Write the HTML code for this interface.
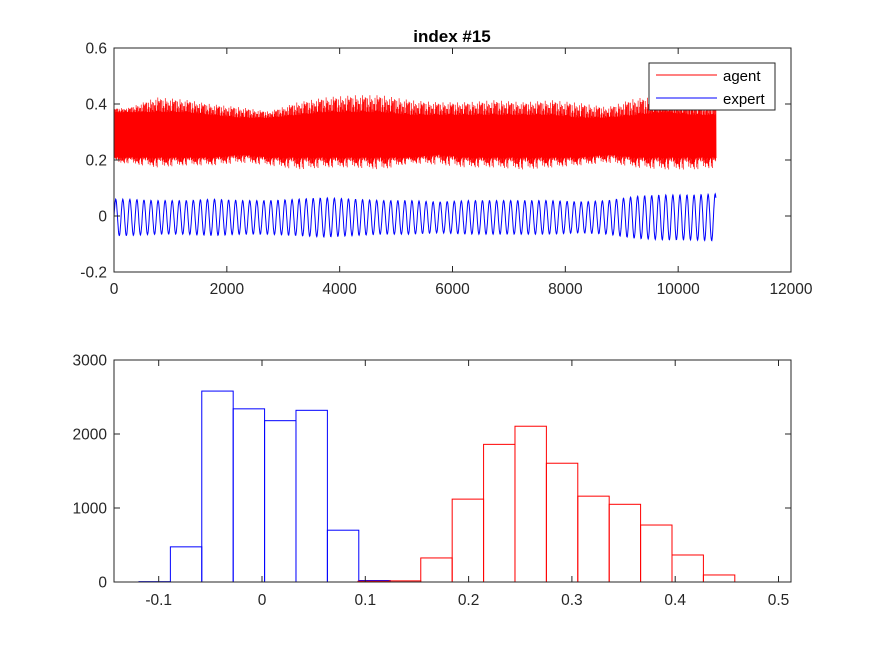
<!DOCTYPE html>
<html><head><meta charset="utf-8"><style>
body{margin:0;background:#fff;width:875px;height:656px;overflow:hidden}
svg{display:block;font-family:"Liberation Sans",Arial,sans-serif}
</style></head><body>
<svg id="fig" width="875" height="656" viewBox="0 0 875 656">
<rect x="0" y="0" width="875" height="656" fill="#fff"/>
<g id="topAxes"></g>
<g id="botAxes"></g>
</svg>
<script>
// ---- Top chart data ----
const topXTicks = [0, 2000, 4000, 6000, 8000, 10000, 12000];
const topYTicks = [-0.2, 0, 0.2, 0.4, 0.6];
const topYLabels = ["-0.2", "0", "0.2", "0.4", "0.6"];
const nSamples = 10670;
// agent envelope per 500-sample segment
const agentMax = [0.39,0.44,0.43,0.41,0.40,0.38,0.42,0.44,0.45,0.45,0.43,0.42,0.42,0.43,0.42,0.43,0.42,0.40,0.44,0.44,0.43,0.40];
const agentMin = [0.18,0.16,0.17,0.17,0.18,0.17,0.15,0.16,0.16,0.15,0.18,0.17,0.16,0.16,0.15,0.16,0.17,0.18,0.16,0.15,0.15,0.16];
const agentCoreHi = [0.37,0.37,0.37,0.36,0.35,0.35,0.36,0.37,0.37,0.37,0.36,0.36,0.36,0.36,0.36,0.36,0.35,0.35,0.36,0.37,0.36,0.36];
const agentCoreLo = [0.21,0.21,0.21,0.21,0.22,0.21,0.21,0.21,0.21,0.21,0.21,0.22,0.21,0.21,0.21,0.21,0.21,0.22,0.21,0.21,0.21,0.21];
const spikeJitter = [0.9,0.35,1.0,0.55,0.15,0.8,0.5,0.97,0.3,0.7,0.05,0.85,0.45,0.62,0.22,0.75,0.4,0.1,0.66,0.92,0.28,0.58,0.08,0.78,0.48,0.18,0.88,0.38,0.68,0.02,0.6,0.33,0.83,0.12,0.52,0.25,0.72];
// expert amplitude per 500-sample segment
const expertAmp = [0.065,0.06,0.06,0.065,0.06,0.06,0.065,0.07,0.065,0.06,0.06,0.055,0.06,0.06,0.06,0.06,0.055,0.06,0.075,0.08,0.08,0.085];
const expertPeriod = 125;
// ---- Bottom chart data ----
const histXTicks = [-0.1, 0, 0.1, 0.2, 0.3, 0.4, 0.5];
const histXLabels = ["-0.1", "0", "0.1", "0.2", "0.3", "0.4", "0.5"];
const histYTicks = [0, 1000, 2000, 3000];
const binWidth = 0.0304;
const expertStart = -0.1191;
const expertCounts = [5, 475, 2580, 2340, 2180, 2320, 700, 20];
const agentStart = 0.0929;
const agentCounts = [10, 15, 325, 1120, 1860, 2105, 1605, 1160, 1050, 770, 365, 95];

const NS = "http://www.w3.org/2000/svg";
function mk(parent, tag, attrs, text){
  const e = document.createElementNS(NS, tag);
  for (const k in attrs) e.setAttribute(k, attrs[k]);
  if (text !== undefined) e.textContent = text;
  parent.appendChild(e); return e;
}
function interp(arr, s){
  const f = s/500 - 0.5;
  const i = Math.max(0, Math.min(arr.length-1, Math.floor(f)));
  const i2 = Math.min(arr.length-1, i+1);
  const t = Math.max(0, Math.min(1, f - i));
  return arr[i]*(1-t) + arr[i2]*t;
}
const AX = "#262626";
const FS = 15.5;

// ---------- top ----------
const topG = document.getElementById('topAxes');
const tL=114, tR=791, tT=48, tB=272;
const tx = v => tL + (v-0)/(12000-0)*(tR-tL);
const ty = v => tB - (v+0.2)/(0.8)*(tB-tT);
mk(topG,'rect',{x:tL,y:tT,width:tR-tL,height:tB-tT,fill:'#fff'});
// agent
let spikes = '';
const step = 7;
let j = 0;
for (let s = 0; s < nSamples; s += step) {
  const k = spikeJitter[j % spikeJitter.length] * spikeJitter[(j*5+11) % spikeJitter.length];
  const k2 = spikeJitter[(j*7+3) % spikeJitter.length] * spikeJitter[(j*3+1) % spikeJitter.length];
  const cHi = interp(agentCoreHi, s), cLo = interp(agentCoreLo, s);
  const hi = cHi + (interp(agentMax, s)-cHi) * k;
  const lo = cLo - (cLo-interp(agentMin, s)) * k2;
  spikes += `M${tx(s).toFixed(1)},${ty(hi).toFixed(1)}L${tx(s+step/2).toFixed(1)},${ty(lo).toFixed(1)}`;
  j++;
}
const agentG = mk(topG,'g',{});


mk(agentG,'path',{d:spikes,stroke:'#f00','stroke-width':0.7,fill:'none'});
let core = '';
for (let s=0;s<=nSamples;s+=50){ core += (s?'L':'M')+tx(s).toFixed(1)+','+ty(interp(agentCoreHi,s)).toFixed(1); }
for (let s=Math.floor(nSamples/50)*50;s>=0;s-=50){ core += 'L'+tx(s).toFixed(1)+','+ty(interp(agentCoreLo,s)).toFixed(1); }
core += 'Z';
mk(agentG,'path',{d:core,fill:'#f00',stroke:'none'});
// expert
let ep = '';
for (let s=0;s<=nSamples;s+=6){
  const v = interp(expertAmp, s)*Math.sin(2*Math.PI*s/expertPeriod) - 0.005;
  ep += (s?'L':'M')+tx(s).toFixed(1)+','+ty(v).toFixed(1);
}
const ex = mk(topG,'path',{d:ep,stroke:'#00f','stroke-width':1,fill:'none'});


mk(topG,'rect',{x:tL,y:tT,width:tR-tL,height:tB-tT,fill:'none',stroke:AX,'stroke-width':1});
topXTicks.forEach(v=>{
  const x=tx(v);
  mk(topG,'line',{x1:x,y1:tB,x2:x,y2:tB-6,stroke:AX});
  mk(topG,'line',{x1:x,y1:tT,x2:x,y2:tT+6,stroke:AX});
  const t=mk(topG,'text',{x:x,y:tB+22,'text-anchor':'middle','font-size':FS,fill:AX},String(v));
  
  
});
topYTicks.forEach((v,i)=>{
  const y=ty(v);
  mk(topG,'line',{x1:tL,y1:y,x2:tL+6,y2:y,stroke:AX});
  mk(topG,'line',{x1:tR,y1:y,x2:tR-6,y2:y,stroke:AX});
  const t=mk(topG,'text',{x:tL-7,y:y+5.5,'text-anchor':'end','font-size':FS,fill:AX},topYLabels[i]);
  
  
});
const title=mk(topG,'text',{x:452,y:42,'text-anchor':'middle','font-size':17,'font-weight':'bold',fill:'#000'},'index #15');


// legend
const lg=mk(topG,'g',{});


mk(lg,'rect',{x:649,y:63,width:126,height:47,fill:'#fff',stroke:AX,'stroke-width':1});
mk(lg,'line',{x1:656,y1:75,x2:717,y2:75,stroke:'#f00'});
mk(lg,'text',{x:723,y:81,'font-size':15,fill:'#000'},'agent');
mk(lg,'line',{x1:656,y1:98,x2:717,y2:98,stroke:'#00f'});
mk(lg,'text',{x:723,y:104,'font-size':15,fill:'#000'},'expert');

// ---------- bottom ----------
const botG=document.getElementById('botAxes');
const bL=114,bR=791,bT=360,bB=582;
const bx = v => 262 + v*1033;
const by = v => bB - v/3000*(bB-bT);
mk(botG,'rect',{x:bL,y:bT,width:bR-bL,height:bB-bT,fill:'#fff'});
function bars(start, counts, color, name){
  counts.forEach((c,i)=>{
    const x0=bx(start+i*binWidth), x1=bx(start+(i+1)*binWidth);
    const r=mk(botG,'rect',{x:x0,y:by(c),width:x1-x0,height:bB-by(c),fill:'none',stroke:color,'stroke-width':1});
    
    
  });
}
bars(expertStart, expertCounts, '#00f', 'expert-hist-bar');
bars(agentStart, agentCounts, '#f00', 'agent-hist-bar');
mk(botG,'rect',{x:bL,y:bT,width:bR-bL,height:bB-bT,fill:'none',stroke:AX,'stroke-width':1});
histXTicks.forEach((v,i)=>{
  const x=bx(v);
  mk(botG,'line',{x1:x,y1:bB,x2:x,y2:bB-6,stroke:AX});
  mk(botG,'line',{x1:x,y1:bT,x2:x,y2:bT+6,stroke:AX});
  const t=mk(botG,'text',{x:x,y:bB+23,'text-anchor':'middle','font-size':FS,fill:AX},histXLabels[i]);
  
  
});
histYTicks.forEach(v=>{
  const y=by(v);
  mk(botG,'line',{x1:bL,y1:y,x2:bL+6,y2:y,stroke:AX});
  mk(botG,'line',{x1:bR,y1:y,x2:bR-6,y2:y,stroke:AX});
  const t=mk(botG,'text',{x:bL-7,y:y+5.5,'text-anchor':'end','font-size':FS,fill:AX},String(v));
  
  
});
</script>
</body></html>
